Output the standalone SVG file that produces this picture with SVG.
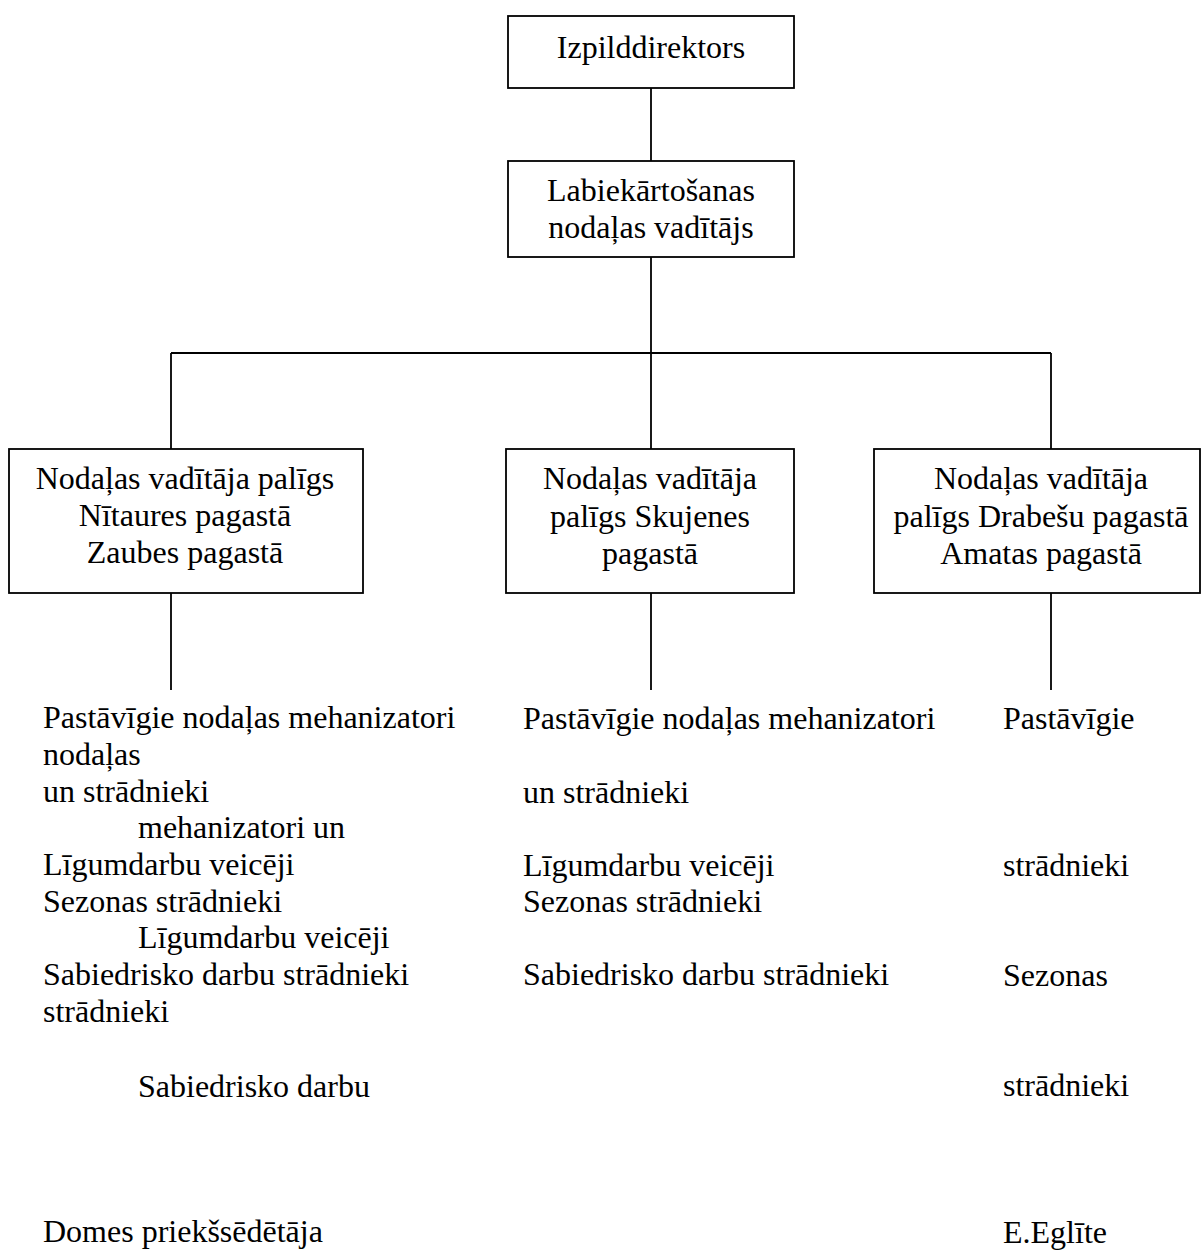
<svg xmlns="http://www.w3.org/2000/svg" width="1201" height="1250" viewBox="0 0 1201 1250">
<style>
.box{fill:#fff;stroke:#000;stroke-width:1.8}
.ln{fill:none;stroke:#000;stroke-width:1.8}
text{font-family:"Liberation Serif","Times New Roman",serif;font-size:32px;fill:#000}
.c{text-anchor:middle}
</style>
<rect width="1201" height="1250" fill="#fff"/>
<g id="connectors">
<line class="ln" x1="651" y1="88" x2="651" y2="161"/>
<line class="ln" x1="651" y1="257" x2="651" y2="353"/>
<line class="ln" x1="171" y1="353" x2="1051" y2="353"/>
<line class="ln" x1="171" y1="353" x2="171" y2="449"/>
<line class="ln" x1="651" y1="353" x2="651" y2="449"/>
<line class="ln" x1="1051" y1="353" x2="1051" y2="449"/>
<line class="ln" x1="171" y1="593" x2="171" y2="690"/>
<line class="ln" x1="651" y1="593" x2="651" y2="690"/>
<line class="ln" x1="1051" y1="593" x2="1051" y2="690"/>
</g>
<g id="izpilddirektors">
<rect class="box" x="508" y="16" width="286" height="72"/>
<text class="c" x="651" y="58">Izpilddirektors</text>
</g>
<g id="labiekartosanas">
<rect class="box" x="508" y="161" width="286" height="96"/>
<text class="c" x="651" y="201">Labiekārtošanas</text>
<text class="c" x="651" y="238">nodaļas vadītājs</text>
</g>
<g id="paligs-nitaures">
<rect class="box" x="9" y="449" width="354" height="144"/>
<text class="c" x="185" y="489">Nodaļas vadītāja palīgs</text>
<text class="c" x="185" y="526">Nītaures pagastā</text>
<text class="c" x="185" y="563">Zaubes pagastā</text>
</g>
<g id="paligs-skujenes">
<rect class="box" x="506" y="449" width="288" height="144"/>
<text class="c" x="650" y="489">Nodaļas vadītāja</text>
<text class="c" x="650" y="527">palīgs Skujenes</text>
<text class="c" x="650" y="564">pagastā</text>
</g>
<g id="paligs-drabesu">
<rect class="box" x="874" y="449" width="326" height="144"/>
<text class="c" x="1041" y="489">Nodaļas vadītāja</text>
<text class="c" x="1041" y="527">palīgs Drabešu pagastā</text>
<text class="c" x="1041" y="564">Amatas pagastā</text>
</g>
<g id="left-list">
<text x="43" y="728">Pastāvīgie nodaļas mehanizatori</text>
<text x="43" y="765">nodaļas</text>
<text x="43" y="802">un strādnieki</text>
<text x="138" y="838">mehanizatori un</text>
<text x="43" y="875">Līgumdarbu veicēji</text>
<text x="43" y="912">Sezonas strādnieki</text>
<text x="138" y="948">Līgumdarbu veicēji</text>
<text x="43" y="985">Sabiedrisko darbu strādnieki</text>
<text x="43" y="1022">strādnieki</text>
<text x="138" y="1097">Sabiedrisko darbu</text>
<text x="43" y="1242">Domes priekšsēdētāja</text>
</g>
<g id="middle-list">
<text x="523" y="729">Pastāvīgie nodaļas mehanizatori</text>
<text x="523" y="803">un strādnieki</text>
<text x="523" y="876">Līgumdarbu veicēji</text>
<text x="523" y="912">Sezonas strādnieki</text>
<text x="523" y="985">Sabiedrisko darbu strādnieki</text>
</g>
<g id="right-list">
<text x="1003" y="729">Pastāvīgie</text>
<text x="1003" y="876">strādnieki</text>
<text x="1003" y="986">Sezonas</text>
<text x="1003" y="1096">strādnieki</text>
<text x="1003" y="1243">E.Eglīte</text>
</g>
</svg>
